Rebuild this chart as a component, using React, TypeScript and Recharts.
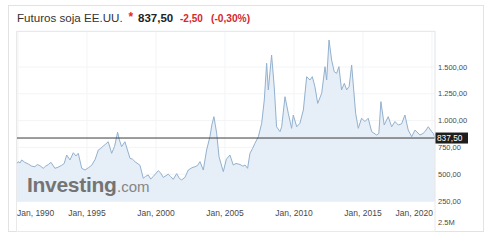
import React from "react";
import {
  ComposedChart,
  Area,
  XAxis,
  YAxis,
  CartesianGrid,
  ReferenceLine,
} from "recharts";

// Decimal year of each reading
const dates: number[] = [
  1989.93, 1990.02, 1990.15, 1990.27, 1990.5, 1990.75,
  1991.0, 1991.23, 1991.4, 1991.59, 1991.83,
  1992.0, 1992.2, 1992.39, 1992.68, 1992.9,
  1993.17, 1993.35, 1993.53, 1993.77,
  1994.01, 1994.2, 1994.37, 1994.62, 1994.86,
  1995.1, 1995.34, 1995.6, 1995.82,
  1996.0, 1996.18, 1996.35, 1996.54, 1996.79,
  1997.0, 1997.22, 1997.35, 1997.51, 1997.75,
  1998.12, 1998.3, 1998.48, 1998.84,
  1999.08, 1999.25, 1999.44, 1999.62, 1999.8,
  2000.17, 2000.35, 2000.53, 2000.89,
  2001.05, 2001.25, 2001.5, 2001.7, 2001.86,
  2002.1, 2002.34, 2002.6, 2002.83,
  2003.0, 2003.19, 2003.43, 2003.67, 2003.91,
  2004.05, 2004.2, 2004.3, 2004.4, 2004.57, 2004.88,
  2005.1, 2005.36, 2005.6, 2005.8,
  2006.09, 2006.3, 2006.45, 2006.64, 2006.81,
  2007.0, 2007.17, 2007.42, 2007.66, 2007.85,
  2008.02, 2008.14, 2008.38, 2008.57, 2008.74, 2008.99,
  2009.11, 2009.35, 2009.59, 2009.83, 2009.95,
  2010.2, 2010.43, 2010.68, 2010.92,
  2011.16, 2011.33, 2011.52, 2011.72,
  2012.01, 2012.25, 2012.37, 2012.54, 2012.73, 2012.92,
  2013.09, 2013.26, 2013.45, 2013.65, 2013.82,
  2014.0, 2014.18, 2014.47, 2014.66, 2014.9,
  2015.14, 2015.38, 2015.63, 2015.99,
  2016.15, 2016.3, 2016.54, 2016.83,
  2017.08, 2017.32, 2017.56, 2017.8,
  2018.04, 2018.28, 2018.53, 2018.77,
  2019.13, 2019.35, 2019.49, 2019.73, 2019.98,
  2020.1, 2020.22,
];

// Soybean futures price (US cents / bushel)
const prices: number[] = [
  600, 617, 605, 633, 610, 595,
  575, 570, 590, 580, 555,
  575, 590, 611, 555, 565,
  583, 600, 679, 633,
  700, 670, 695, 555, 539,
  560, 583, 640, 726,
  740, 763, 780, 803, 695,
  760, 891, 820, 757, 803,
  648, 640, 617, 583,
  462, 480, 493, 455, 478,
  533, 510, 470, 500,
  480, 452, 505, 460, 447,
  470, 539, 560, 570,
  580, 617, 539, 726, 850,
  960, 1037, 960, 882, 663, 524,
  640, 679, 586, 600,
  591, 575, 586, 555, 695,
  740, 788, 850, 975, 1192,
  1535, 1286, 1612, 1316, 943, 897,
  943, 1223, 1068, 928, 1052,
  943, 975, 1099, 1410,
  1379, 1410, 1316, 1161,
  1255, 1503, 1379, 1752, 1565, 1456,
  1441, 1503, 1286, 1348, 1286,
  1320, 1519, 1068, 928, 1022,
  991, 1022, 897, 866,
  880, 1177, 959, 1037,
  943, 991, 959, 970,
  1052, 912, 850, 912,
  866, 880, 897, 943, 897,
  880, 837.5,
];

const xTicks: number[] = [1990, 1995, 2000, 2005, 2010, 2015, 2020];
const yTicks: number[] = [250, 500, 750, 1000, 1250, 1500];
const lastPrice = 837.5;

const data = dates.map((t, i) => ({ t, price: prices[i] }));

const FONT = "'Liberation Sans', Arial, sans-serif";

const fmtNum = (v: number) => {
  const [intPart, dec] = v.toFixed(2).split(".");
  const withSep = intPart.replace(/\B(?=(\d{3})+(?!\d))/g, ".");
  return `${withSep},${dec}`;
};

const XTick = (props: any) => {
  const { x, payload } = props;
  const v = payload.value as number;
  const first = v === xTicks[0];
  const last = v === xTicks[xTicks.length - 1];
  const anchor = first ? "start" : last ? "end" : "middle";
  const dx = first ? -1 : last ? 1 : 0;
  return (
    <text
      x={x + dx}
      y={216}
      textAnchor={anchor}
      fontSize={8.5}
      fill="#4a4a4a"
      fontFamily={FONT}
    >
      {`Jan, ${v}`}
    </text>
  );
};

const PriceTag = (props: any) => {
  const vb = props.viewBox || {};
  const x = (vb.x ?? 0) + (vb.width ?? 0);
  const y = vb.y ?? 0;
  return (
    <g>
      <rect x={x} y={y - 5.5} width={33} height={11} fill="#1e1e1e" />
      <text
        x={x + 2}
        y={y + 3}
        fontSize={8.3}
        fill="#fff"
        fontFamily={FONT}
      >
        {fmtNum(lastPrice)}
      </text>
    </g>
  );
};

export default function App() {
  return (
    <div
      style={{
        position: "absolute",
        left: 0,
        top: 0,
        width: 496,
        height: 243,
        background: "#fff",
      }}
    >
      <ComposedChart
        width={496}
        height={243}
        data={data}
        margin={{ top: 31, right: 13, left: 17, bottom: 12 }}
      >
        <CartesianGrid stroke="#f2f4f7" strokeWidth={1} />
        <XAxis
          dataKey="t"
          type="number"
          domain={[1989.93, 2020.22]}
          ticks={xTicks}
          axisLine={false}
          tickLine={false}
          tickSize={0}
          height={30}
          tick={<XTick />}
          allowDataOverflow
        />
        <YAxis
          orientation="right"
          type="number"
          domain={[250, 1836]}
          ticks={yTicks}
          axisLine={false}
          tickLine={false}
          tickSize={0}
          tickMargin={3}
          width={48}
          tick={{ fontSize: 7.5, fill: "#4a4a4a", fontFamily: FONT }}
          tickFormatter={fmtNum}
          allowDataOverflow
        />
        <Area
          type="linear"
          dataKey="price"
          stroke="#93b1ce"
          strokeWidth={1}
          fill="#e6eef7"
          fillOpacity={1}
          baseValue={250}
          isAnimationActive={false}
          dot={false}
          activeDot={false}
        />
        <ReferenceLine
          y={lastPrice}
          stroke="#3a3a3a"
          strokeWidth={1}
          label={<PriceTag />}
          ifOverflow="visible"
        />
      </ComposedChart>
      <svg
        width={496}
        height={243}
        style={{ position: "absolute", left: 0, top: 0, pointerEvents: "none" }}
      >
        {/* outer frame */}
        <rect x={8.5} y={5.5} width={475} height={226} fill="none" stroke="#e2e2e2" />
        {/* plot frame */}
        <rect x={16.5} y={31.5} width={418.5} height={200} fill="none" stroke="#e9e9e9" />
        <line x1={17} x2={435} y1={201.5} y2={201.5} stroke="#eef0f3" />
        {/* title */}
        <text x={17} y={22} fontSize={11.6} fill="#333" fontFamily={FONT}>
          Futuros soja EE.UU.
        </text>
        <text x={128.5} y={21} fontSize={12} fill="#e4262b" fontFamily={FONT} fontWeight="bold">
          *
        </text>
        <text x={138} y={22} fontSize={11.5} fill="#222" fontFamily={FONT} fontWeight="bold">
          837,50
        </text>
        <text x={180} y={22} fontSize={10} fill="#d6272c" fontFamily={FONT} fontWeight="bold">
          -2,50
        </text>
        <text x={211} y={22} fontSize={10.2} fill="#d6272c" fontFamily={FONT} fontWeight="bold">
          (-0,30%)
        </text>
        {/* watermark */}
        <text x={27} y={192} fontSize={21} fill="#747474" fontFamily={FONT} fontWeight="bold" letterSpacing={-0.3}>
          Investing
        </text>
        <text x={117} y={192} fontSize={15} fill="#858585" fontFamily={FONT}>
          .com
        </text>
        {/* volume scale label */}
        <text x={438} y={225} fontSize={7.5} fill="#4a4a4a" fontFamily={FONT}>
          2.5M
        </text>
      </svg>
    </div>
  );
}
